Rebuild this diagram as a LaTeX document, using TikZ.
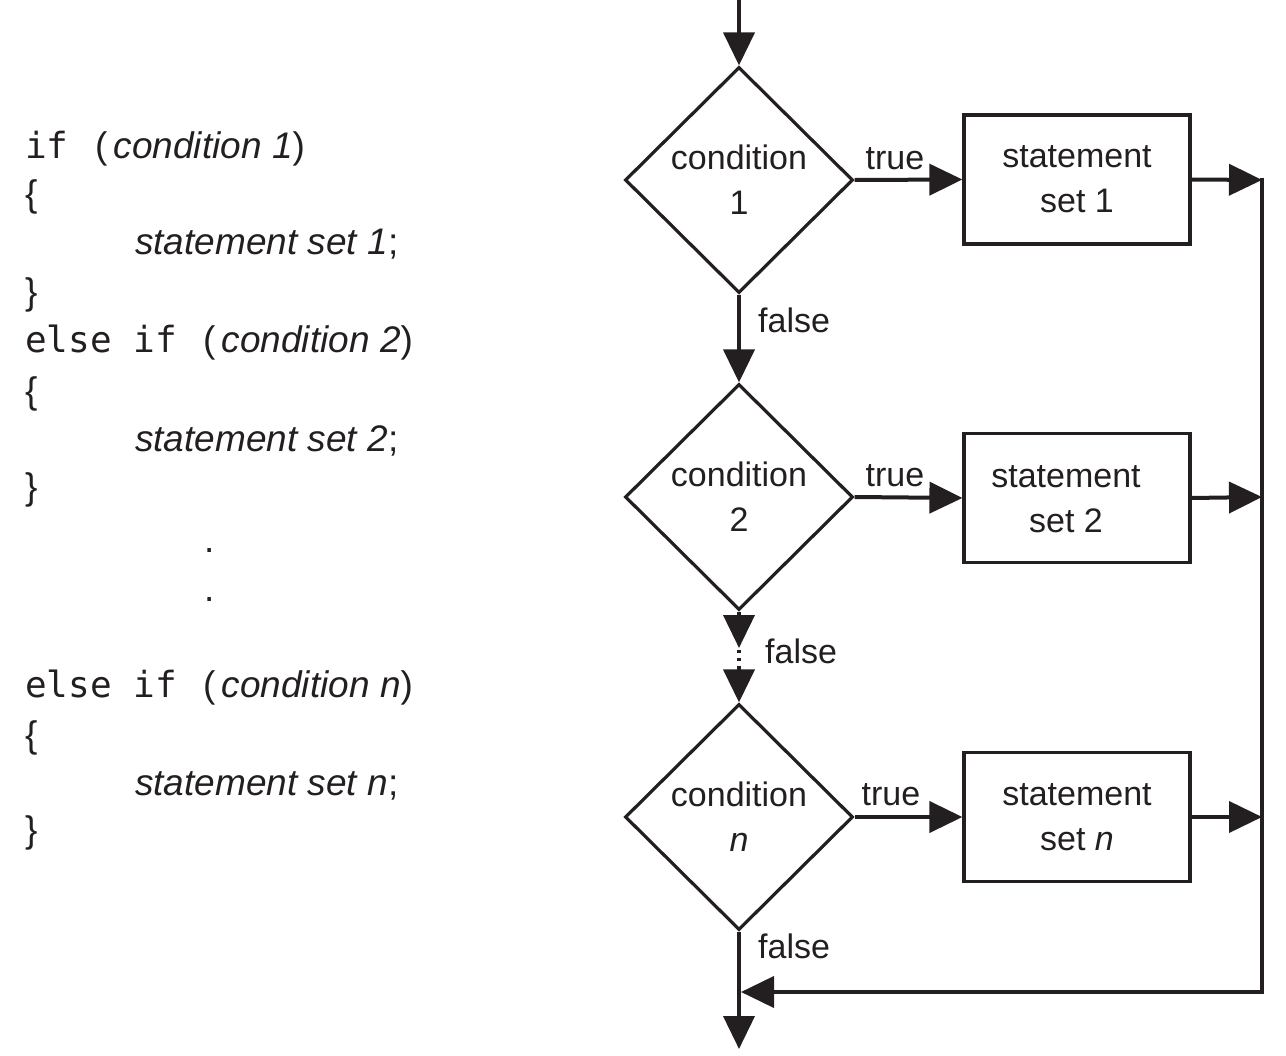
\documentclass[tikz,border=0pt]{standalone}
\usepackage{fontspec}
\setmainfont{Liberation Sans}
\newfontfamily\codemono{DejaVu Sans Mono}
\usetikzlibrary{arrows.meta,shapes.geometric}
\definecolor{ink}{RGB}{35,31,32}
\begin{document}
\begin{tikzpicture}[x=1pt,y=-1pt,
  flow/.style={draw=ink,line width=4pt,-{Triangle[length=33pt,width=31pt]}},
  cond/.style={diamond,draw=ink,line width=3.2pt,shape aspect=1,inner sep=0pt,
    minimum width=228pt,minimum height=226pt,align=center,
    font=\fontsize{34}{45}\selectfont,text=ink},
  stmt/.style={rectangle,draw=ink,line width=3.2pt,inner sep=0pt,
    minimum width=226pt,minimum height=129pt,align=center,
    font=\fontsize{34}{45}\selectfont,text=ink},
  lbl/.style={inner sep=0pt,anchor=base,font=\fontsize{34}{40}\selectfont,text=ink},
  kw/.style={inner sep=0pt,anchor=base west,font=\codemono\fontsize{36}{40}\selectfont,text=ink},
  code/.style={inner sep=0pt,anchor=base west,font=\fontsize{37}{40}\selectfont,text=ink}]
\useasboundingbox (0,0) rectangle (1286,1056);

% ---- code listing ----
\node[kw]   (k1)  at (25,159) {if};
\node[code] (c1)  at (95,159) {(\,\textit{condition 1})};
\node[code] (o1)  at (25,207) {\{};
\node[code] (s1)  at (135,255) {\textit{statement set 1};};
\node[code] (e1)  at (25,305) {\}};
\node[kw]   (k2)  at (25,353) {else if};
\node[code] (c2)  at (203,353) {(\,\textit{condition 2})};
\node[code] (o2)  at (25,404) {\{};
\node[code] (s2)  at (135,452) {\textit{statement set 2};};
\node[code] (e2)  at (25,500) {\}};
\node[code] (dot1) at (204,552) {.};
\node[code] (dot2) at (204,601) {.};
\node[kw]   (k3)  at (25,697) {else if};
\node[code] (c3)  at (203,697) {(\,\textit{condition n})};
\node[code] (o3)  at (25,747) {\{};
\node[code] (s3)  at (135,795) {\textit{statement set n};};
\node[code] (e3)  at (25,842) {\}};

% ---- flowchart ----
\node[cond] (d1) at (739,180) {condition\\1};
\node[cond] (d2) at (739,497) {condition\\2};
\node[cond] (dn) at (739,817) {condition\\\textit{n}};

\node[stmt] (b1) at (1077,179.5) {statement\\set 1};
\node[stmt] (b2) at (1077,498) {};
\node[lbl,anchor=center,align=center,font=\fontsize{34}{45}\selectfont] (b2t) at (1066,499) {statement\\set 2};
\node[stmt] (bn) at (1077,817) {statement\\set \textit{n}};

\coordinate (start) at (739,0);
\coordinate (rail1) at (1262,180);
\coordinate (rail2) at (1262,497);
\coordinate (railn) at (1262,817);
\coordinate (railtop) at (1262,178);
\coordinate (railbot) at (1262,992);
\coordinate (join) at (741,992);
\coordinate (finish) at (739,1049);
\coordinate (gapa) at (739,648);
\coordinate (gapb) at (739,668);

\draw[flow] (start) -- (d1.north);
\draw[flow] (d1.east) -- (b1.west);
\draw[flow] (d2.east) -- (b2.west);
\draw[flow] (dn.east) -- (bn.west);
\draw[flow] (b1.east) -- (rail1);
\draw[flow] (b2.east) -- (rail2);
\draw[flow] (bn.east) -- (railn);
\draw[flow] (d1.south) -- (d2.north);
\draw[flow] (d2.south) -- (gapa);
\draw[draw=ink,line width=4pt,dash pattern=on 3pt off 5pt] (gapa) ++(0,2) -- (gapb);
\draw[flow] (gapb) -- (dn.north);
\draw[flow] (dn.south) -- (finish);
\draw[flow,line join=miter] (railtop) -- (railbot) -- (join);

\node[lbl] (t1) at (895,170) {true};
\node[lbl] (t2) at (895,487) {true};
\node[lbl] (t3) at (891,805) {true};
\node[lbl,anchor=base west] (f1) at (758,333) {false};
\node[lbl,anchor=base west] (f2) at (765,663) {false};
\node[lbl,anchor=base west] (f3) at (758,958) {false};
\end{tikzpicture}
\end{document}
